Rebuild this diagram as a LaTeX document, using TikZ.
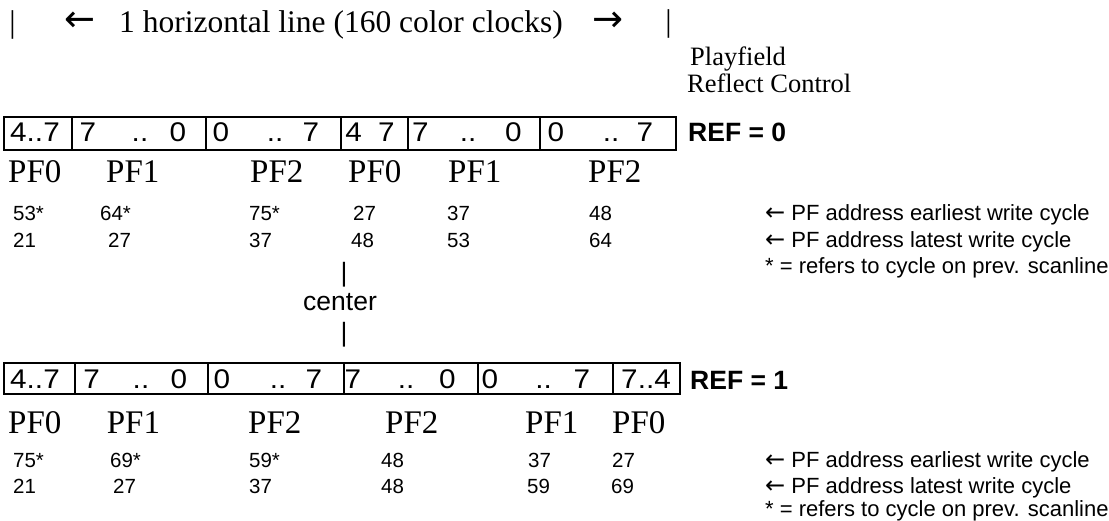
\documentclass[tikz,border=0pt]{standalone}
\usepackage{fontspec}
\setmainfont{Liberation Serif}
\setsansfont{Liberation Sans}
\newfontfamily\arrowfont{DejaVu Sans}
\newcommand{\larr}{{\arrowfont\fontsize{24}{26}\selectfont ←}}
\tikzset{
  cell/.style={draw, line width=2pt, inner sep=0pt, anchor=north west},
  dig/.style={font=\sffamily\fontsize{27}{30}\selectfont, inner sep=0pt, anchor=base, xscale=1.1},
  pf/.style={font=\fontsize{33}{38}\selectfont, inner sep=0pt, anchor=base west},
  num/.style={font=\sffamily\fontsize{20.5}{24}\selectfont, inner sep=0pt, anchor=base west},
  note/.style={font=\sffamily\fontsize{22}{26}\selectfont, inner sep=0pt, anchor=base west},
  reftxt/.style={font=\sffamily\bfseries\fontsize{26.5}{30}\selectfont, inner sep=0pt, anchor=base west},
  serif/.style={font=\fontsize{31.5}{36}\selectfont, inner sep=0pt},
  tarrow/.style={font=\arrowfont\fontsize{37}{40}\selectfont, inner sep=0pt, anchor=center},
  ctr/.style={font=\sffamily\fontsize{26.5}{30}\selectfont, inner sep=0pt},
}
\begin{document}
\begin{tikzpicture}[x=1pt,y=-1pt]
\useasboundingbox[fill=white] (0,0) rectangle (1109,521);
% title
\node[serif, anchor=base] (tbarL) at (12.5,33) {|};
\node[tarrow] (tarrL) at (80,22) {←};
\node[serif, anchor=base west] (title) at (119,33) {1 horizontal line (160 color clocks)};
\node[tarrow] (tarrR) at (608,22) {→};
\node[serif, anchor=base] (tbarR) at (668.5,32) {|};
\node[font=\fontsize{26.5}{30}\selectfont, inner sep=0pt, anchor=base west] (pfl) at (690,66) {Playfield};
\node[font=\fontsize{26.5}{30}\selectfont, inner sep=0pt, anchor=base west] (rfc) at (687,93) {Reflect Control};
% row 1 cells
\node[cell, minimum width=68pt, minimum height=33.3pt] (a1) at (3,115.7) {};
\node[cell, minimum width=134pt, minimum height=33.3pt] (a2) at (71,115.7) {};
\node[cell, minimum width=135pt, minimum height=33.3pt] (a3) at (205,115.7) {};
\node[cell, minimum width=67pt, minimum height=33.3pt] (a4) at (340,115.7) {};
\node[cell, minimum width=132pt, minimum height=33.3pt] (a5) at (407,115.7) {};
\node[cell, minimum width=136pt, minimum height=33.3pt] (a6) at (539,115.7) {};
\node[dig] (a1t) at (35,141.5) {4..7};
\node[dig] (a2a) at (88,141.5) {7};
\node[dig] (a2b) at (140,141.5) {..};
\node[dig] (a2c) at (178,141.5) {0};
\node[dig] (a3a) at (221,141.5) {0};
\node[dig] (a3b) at (275,141.5) {..};
\node[dig] (a3c) at (311,141.5) {7};
\node[dig] (a4t) at (370,141.5) {4\hspace{0.55em}7};
\node[dig] (a5a) at (420.5,141.5) {7};
\node[dig] (a5b) at (468,141.5) {..};
\node[dig] (a5c) at (513.5,141.5) {0};
\node[dig] (a6a) at (556,141.5) {0};
\node[dig] (a6b) at (611,141.5) {..};
\node[dig] (a6c) at (645,141.5) {7};
\node[reftxt] (ref0) at (688,141.5) {REF = 0};
\node[pf] (p1) at (8,183) {PF0};
\node[pf] (p2) at (106,183) {PF1};
\node[pf] (p3) at (250,183) {PF2};
\node[pf] (p4) at (348,183) {PF0};
\node[pf] (p5) at (448,183) {PF1};
\node[pf] (p6) at (588,183) {PF2};
% row 1 numbers
\node[num] (e1) at (13,220.3) {53*};
\node[num] (e2) at (100,220.3) {64*};
\node[num] (e3) at (249,220.3) {75*};
\node[num] (e4) at (353,220.3) {27};
\node[num] (e5) at (447,220.3) {37};
\node[num] (e6) at (589,220.3) {48};
\node[note] (en1) at (765,220.3) {\larr\ PF address earliest write cycle};
\node[num] (l1) at (13,247.3) {21};
\node[num] (l2) at (108,247.3) {27};
\node[num] (l3) at (249,247.3) {37};
\node[num] (l4) at (351,247.3) {48};
\node[num] (l5) at (447,247.3) {53};
\node[num] (l6) at (589,247.3) {64};
\node[note] (ln1) at (765,247.3) {\larr\ PF address latest write cycle};
\node[note] (fn1) at (765,273.5) {* = refers to cycle on prev. scanline};
% center
\node[ctr, anchor=base] (cb1) at (344,281.5) {|};
\node[ctr, anchor=base west] (center) at (303,311) {center};
\node[ctr, anchor=base] (cb2) at (344,341.5) {|};
% row 2 cells
\node[cell, minimum width=71pt, minimum height=31pt] (b1) at (3,362.3) {};
\node[cell, minimum width=133pt, minimum height=31pt] (b2) at (74,362.3) {};
\node[cell, minimum width=136pt, minimum height=31pt] (b3) at (207,362.3) {};
\node[cell, minimum width=134pt, minimum height=31pt] (b4) at (343,362.3) {};
\node[cell, minimum width=135pt, minimum height=31pt] (b5) at (477,362.3) {};
\node[cell, minimum width=67pt, minimum height=31pt] (b6) at (612,362.3) {};
\node[dig] (b1t) at (35,388.5) {4..7};
\node[dig] (b2a) at (91.7,388.5) {7};
\node[dig] (b2b) at (141,388.5) {..};
\node[dig] (b2c) at (179,388.5) {0};
\node[dig] (b3a) at (222,388.5) {0};
\node[dig] (b3b) at (278,388.5) {..};
\node[dig] (b3c) at (314,388.5) {7};
\node[dig] (b4a) at (353,388.5) {7};
\node[dig] (b4b) at (406,388.5) {..};
\node[dig] (b4c) at (447.5,388.5) {0};
\node[dig] (b5a) at (490,388.5) {0};
\node[dig] (b5b) at (543.5,388.5) {..};
\node[dig] (b5c) at (582,388.5) {7};
\node[dig] (b6t) at (646,388.5) {7..4};
\node[reftxt] (ref1) at (690,389) {REF = 1};
\node[pf] (q1) at (8,433) {PF0};
\node[pf] (q2) at (106.7,433) {PF1};
\node[pf] (q3) at (248,433) {PF2};
\node[pf] (q4) at (385,433) {PF2};
\node[pf] (q5) at (525,433) {PF1};
\node[pf] (q6) at (612,433) {PF0};
% row 2 numbers
\node[num] (f1) at (13,467) {75*};
\node[num] (f2) at (110,467) {69*};
\node[num] (f3) at (249,467) {59*};
\node[num] (f4) at (381,467) {48};
\node[num] (f5) at (528,467) {37};
\node[num] (f6) at (612,467) {27};
\node[note] (en2) at (765,467) {\larr\ PF address earliest write cycle};
\node[num] (m1) at (13,493) {21};
\node[num] (m2) at (113,493) {27};
\node[num] (m3) at (249,493) {37};
\node[num] (m4) at (381,493) {48};
\node[num] (m5) at (527,493) {59};
\node[num] (m6) at (611,493) {69};
\node[note] (ln2) at (765,493) {\larr\ PF address latest write cycle};
\node[note] (fn2) at (765,516) {* = refers to cycle on prev. scanline};
\end{tikzpicture}
\end{document}
